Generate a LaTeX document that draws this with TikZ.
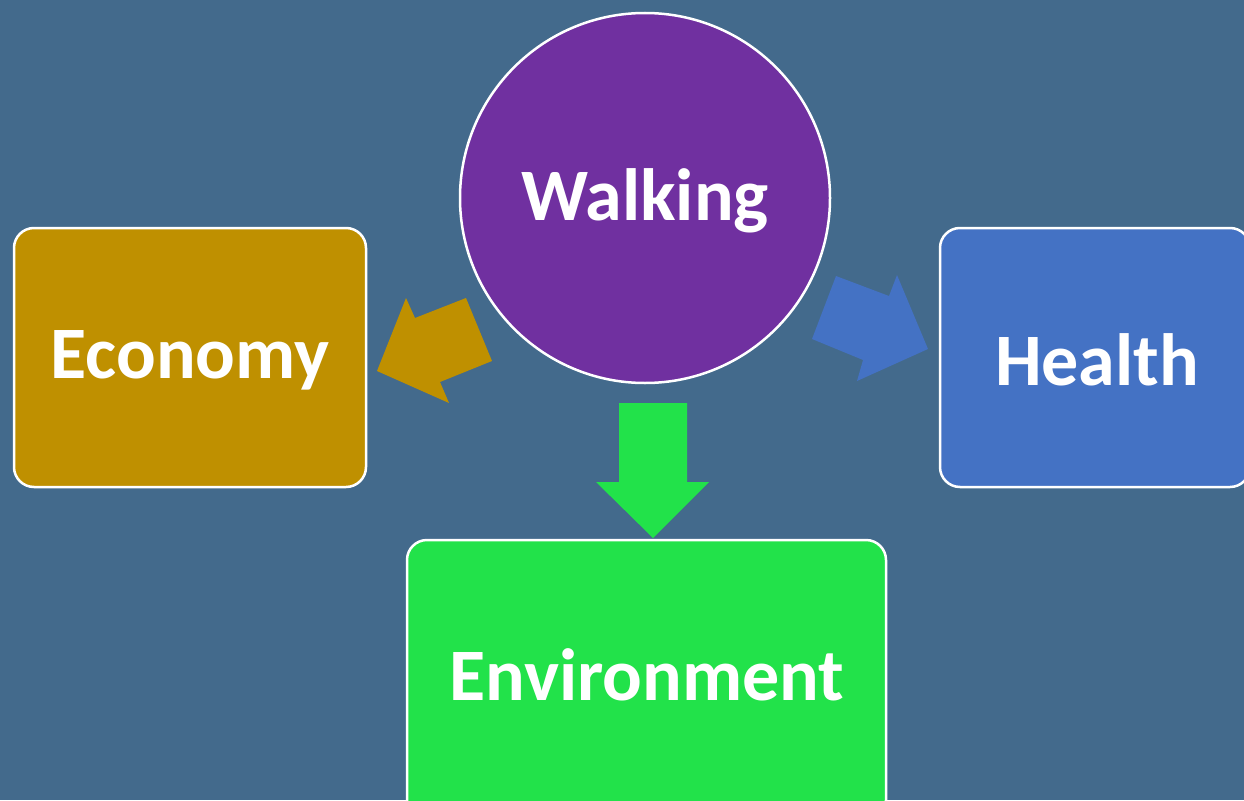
\documentclass[tikz,border=0pt]{standalone}
\usepackage{fontspec}
\setmainfont{Carlito}
\definecolor{bgblue}{RGB}{67,106,140}
\definecolor{walkpurple}{RGB}{112,48,160}
\definecolor{ecogold}{RGB}{191,144,0}
\definecolor{healthblue}{RGB}{68,114,196}
\definecolor{envgreen}{RGB}{34,226,74}
\begin{document}
\begin{tikzpicture}[
    x=1pt, y=-1pt,
    hub/.style={circle, draw=white, line width=2.5pt, fill=walkpurple, minimum size=370pt, inner sep=0pt},
    topic/.style={rectangle, rounded corners=20pt, draw=white, line width=2.5pt, inner sep=0pt},
    label/.style={text=white, font=\bfseries\fontsize{74}{78}\selectfont},
    blockarrow/.style={draw=none}
    ]
    % Hintergrund
    \fill[bgblue] (0,0) rectangle (1244,800);
    \useasboundingbox (0,0) rectangle (1244,800);

    % Kreis in der Mitte
    \node[hub] (walking) at (645,198) {};
    \node[label] at (645,201) {Walking};

    % Kästen
    \node[topic, fill=ecogold, minimum width=352pt, minimum height=259pt] (economy) at (190,357.5) {};
    \node[label] at (190,360) {Economy};
    \node[topic, fill=healthblue, minimum width=310pt, minimum height=259pt] (health) at (1095,357.5) {};
    \node[label] at (1097,360) {Health};
    \node[topic, fill=envgreen, minimum width=479pt, minimum height=280pt] (environment) at (646.5,680) {};
    \node[label] at (647,675) {Environment};

    % Blockpfeile
    \fill[blockarrow, ecogold] (466,298) -- (492,361) -- (440,382) -- (449,403)
        -- (377,371) -- (406,298) -- (415,318) -- cycle;
    \fill[blockarrow, healthblue] (836,276) -- (889,296) -- (897,275) -- (928,349)
        -- (857,381) -- (863,360) -- (812,339) -- cycle;
    \fill[blockarrow, envgreen] (619,403) -- (687,403) -- (687,482) -- (709,482)
        -- (653,538) -- (596,482) -- (619,482) -- cycle;
\end{tikzpicture}
\end{document}
